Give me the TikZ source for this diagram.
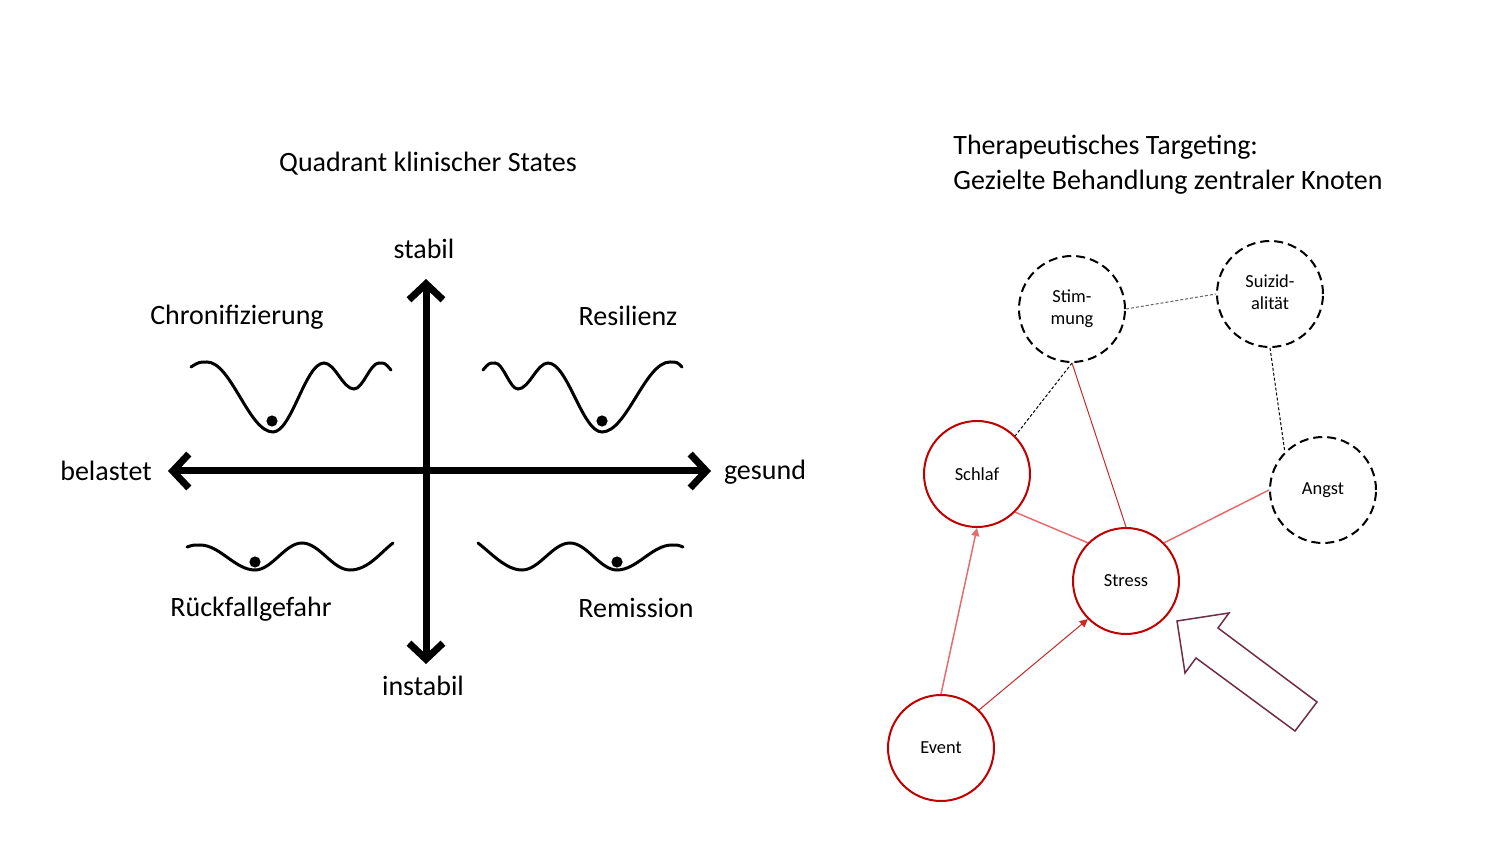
\documentclass[tikz,border=0pt]{standalone}
\usepackage{fontspec}
\setmainfont{Carlito}
\usetikzlibrary{arrows.meta}
\definecolor{kernrot}{RGB}{192,0,0}
\definecolor{kantenrot}{RGB}{205,40,40}
\definecolor{hellrot}{RGB}{228,110,110}
\definecolor{pfeilrand}{RGB}{112,45,72}
\newcommand{\zweizeilig}[2]{\raisebox{-1.6pt}{\begin{tabular}{@{}c@{}}#1\\#2\end{tabular}}}
\begin{document}
\begin{tikzpicture}[x=0.5pt, y=-0.5pt,
  gross/.style={font=\fontsize{14}{17.5}\selectfont, inner sep=0pt},
  achse/.style={line width=3.5pt, {Straight Barb[length=8pt,width=17pt]}-{Straight Barb[length=8pt,width=17pt]}},
  welle/.style={line width=1.5pt, line cap=round},
  kugel/.style={fill=black},
  knoten/.style={circle, minimum size=53pt, inner sep=0pt, line width=1pt,
    font=\fontsize{9.2}{11}\selectfont},
  aktiv/.style={knoten, draw=kernrot},
  passiv/.style={knoten, draw=black, dash pattern=on 4.5pt off 2.5pt},
  strich/.style={line width=0.5pt, dash pattern=on 1.5pt off 1pt}]

\useasboundingbox (0,0) rectangle (1500,844);

% linke Seite: Quadrant
\node[gross] (titel) at (428,164) {Quadrant klinischer States};

\coordinate (links) at (168,471);
\coordinate (rechts) at (711,471);
\coordinate (oben) at (426,279);
\coordinate (unten) at (426,664);
\draw[achse] (links) -- (rechts);
\draw[achse] (unten) -- (oben);

\node[gross] (stabil) at (424,249) {stabil};
\node[gross] (instabil) at (423,686) {instabil};
\node[gross] (belastet) at (106,471) {belastet};
\node[gross] (gesund) at (765,472) {gesund};

\node[gross] (chron) at (237,317) {Chronifizierung};
\node[gross] (resil) at (628,316) {Resilienz};
\node[gross] (rueck) at (251,609) {Rückfallgefahr};
\node[gross] (remis) at (636,608) {Remission};

% Potentiallandschaften
\draw[welle] (191,367) .. controls (199,362) .. (207,362)
  .. controls (231,362) and (249,432) .. (273,432)
  .. controls (291.6,432) and (305.4,363) .. (324,363)
  .. controls (335,363) and (343,389) .. (354,389)
  .. controls (363,389) and (370,363) .. (379,363)
  .. controls (385,363) .. (391,370);
\fill[kugel] (272,421) circle (2.8pt);

\draw[welle] (483,370) .. controls (489,363) .. (495,363)
  .. controls (503.4,363) and (509.6,389) .. (518,389)
  .. controls (529,389) and (537,363) .. (548,363)
  .. controls (567.7,363) and (582.3,432) .. (602,432)
  .. controls (626.8,432) and (645.2,362) .. (670,362)
  .. controls (677,362) .. (682,367);
\fill[kugel] (602,421) circle (2.8pt);

\draw[welle] (187,547) .. controls (193,545) .. (200,545)
  .. controls (220,545) and (235,570) .. (255,570)
  .. controls (272,570) and (285,543) .. (302,543)
  .. controls (319.5,543) and (332.5,570) .. (350,570)
  .. controls (368,570) and (380,553) .. (393,543);
\fill[kugel] (255,562) circle (2.8pt);

\draw[welle] (478,543) .. controls (491,553) and (506,570) .. (522,570)
  .. controls (539.5,570) and (552.5,543) .. (570,543)
  .. controls (587,543) and (600,570) .. (617,570)
  .. controls (637,570) and (652,545) .. (672,545)
  .. controls (678,545) .. (683,547);
\fill[kugel] (617,562) circle (2.8pt);

% rechte Seite: Netzwerk
\node[gross, anchor=west, align=left] (ziel) at (953,165)
  {Therapeutisches Targeting:\\Gezielte Behandlung zentraler Knoten};

\node[passiv] (stimmung) at (1072,309) {\zweizeilig{Stim-}{mung}};
\node[passiv] (suizid) at (1270,294) {\zweizeilig{Suizid-}{alität}};
\node[aktiv] (schlaf) at (977,474) {Schlaf};
\node[passiv] (angst) at (1323,490) {Angst};
\node[aktiv] (stress) at (1126,581) {Stress};
\node[aktiv] (event) at (941,748) {Event};

\draw[strich, black!60] (stimmung.east) -- (suizid.west);
\draw[strich] (stimmung.south) -- (schlaf.45);
\draw[strich] (suizid.south) -- (angst.135);
\draw[kantenrot, line width=0.5pt] (stimmung.south) -- (stress.north);
\draw[hellrot, line width=0.75pt] (schlaf.-45) -- (stress.135);
\draw[hellrot, line width=0.75pt] (stress.45) -- (angst.west);
\draw[hellrot, line width=0.75pt, -{Triangle[length=4pt,width=4pt]}] (event.north) -- (schlaf.south);
\draw[kantenrot, line width=0.5pt, -{Triangle[length=4pt,width=4pt]}] (event.45) -- (stress.-135);

% Interventionspfeil
\draw[pfeilrand, line width=0.75pt, line join=miter] (1177,621) -- (1229,613) -- (1218,628)
  -- (1317,702) -- (1295,731) -- (1196,658) -- (1185,673) -- cycle;

\end{tikzpicture}
\end{document}
